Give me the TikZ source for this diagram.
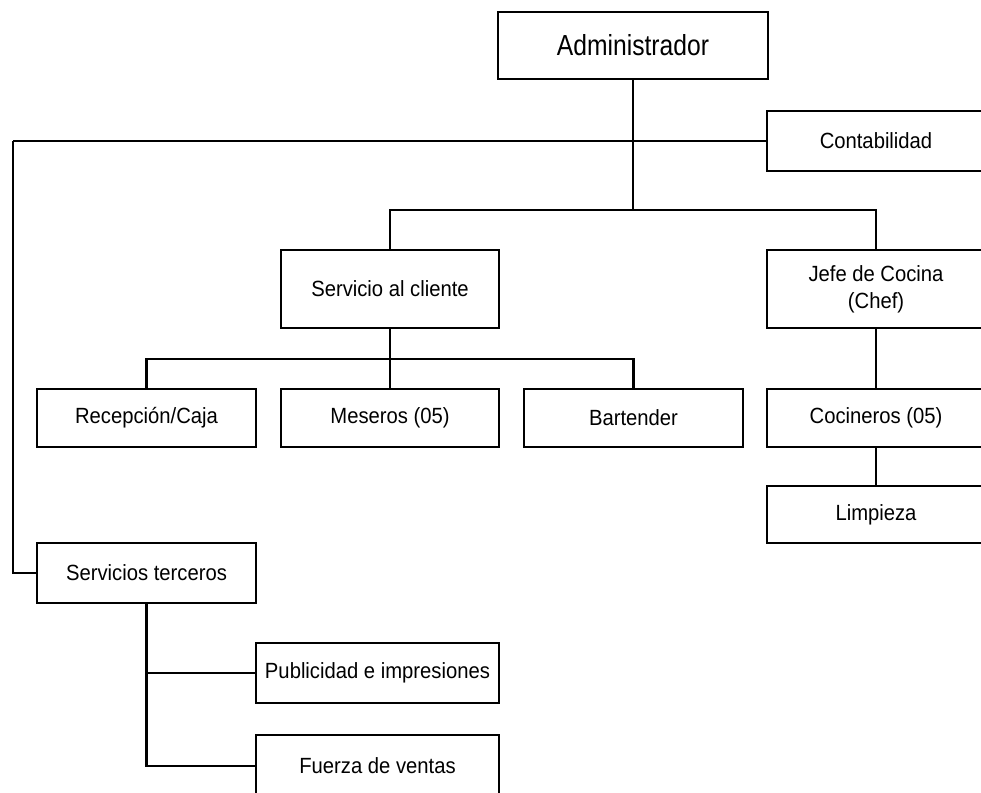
\documentclass[tikz,border=0pt]{standalone}
\usepackage{fontspec}
\setmainfont{Liberation Sans}
\usepackage{graphicx}
\newcommand{\nt}[1]{\scalebox{0.92}[1]{#1}}
\tikzset{
  box/.style={draw, line width=2.6pt, rectangle, inner sep=0pt, align=center,
    font=\fontsize{22}{27}\selectfont},
  link/.style={line width=2.6pt, line join=miter},
}
\begin{document}
\begin{tikzpicture}[x=1pt,y=-1pt]
\useasboundingbox (0,0) rectangle (981,792);
\clip (0,0) rectangle (981,792);
\fill[white] (0,0) rectangle (981,792);
% boxes
\node[box, minimum width=270pt, minimum height=67pt] (admin) at (633,45.5)
  {\fontsize{29}{34}\selectfont\scalebox{0.85}[1]{Administrador}};
\node[box, minimum width=218pt, minimum height=60pt] (conta) at (876,141) {\nt{Contabilidad}};
\node[box, minimum width=218pt, minimum height=78pt] (serv) at (390,289) {\nt{Servicio al cliente}};
\node[box, minimum width=218pt, minimum height=78pt] (jefe) at (876,289) {\nt{Jefe de Cocina}\\\nt{(Chef)}};
\node[box, minimum width=219pt, minimum height=58pt] (recep) at (146.5,418) {\nt{Recepción/Caja}};
\node[box, minimum width=218pt, minimum height=58pt] (meser) at (390,418) {\nt{Meseros (05)}};
\node[box, minimum width=219pt, minimum height=58pt] (bart) at (633.5,418) {\nt{Bartender}};
\node[box, minimum width=218pt, minimum height=58pt] (cocin) at (876,418) {\nt{Cocineros (05)}};
\node[box, minimum width=218pt, minimum height=57pt] (limp) at (876,514.5) {\nt{Limpieza}};
\node[box, minimum width=219pt, minimum height=60pt] (terc) at (146.5,573) {\nt{Servicios terceros}};
\node[box, minimum width=243pt, minimum height=60pt] (publi) at (377.5,673) {\nt{Publicidad e impresiones}};
\node[box, minimum width=243pt, minimum height=62pt] (fuerza) at (377.5,766) {\nt{Fuerza de ventas}};
% junction coordinates
\coordinate (j1) at (633,210);
\coordinate (j2) at (390,359);
\coordinate (lft) at (13,141);
% connectors
\draw[link] (admin.south) -- (j1);
\draw[link] (lft) -- (conta.west);
\draw[link] (lft) |- (terc.west);
\draw[link] (serv.north) -- (serv.north |- j1) -- (jefe.north |- j1) -- (jefe.north);
\draw[link] (serv.south) -- (j2);
\draw[link] (recep.north) -- (recep.north |- j2) -- (bart.north |- j2) -- (bart.north);
\draw[link] (j2) -- (meser.north);
\draw[link] (jefe.south) -- (cocin.north);
\draw[link] (cocin.south) -- (limp.north);
\draw[link] (terc.south) |- (fuerza.west);
\draw[link] (terc.south |- publi.west) -- (publi.west);
\end{tikzpicture}
\end{document}
